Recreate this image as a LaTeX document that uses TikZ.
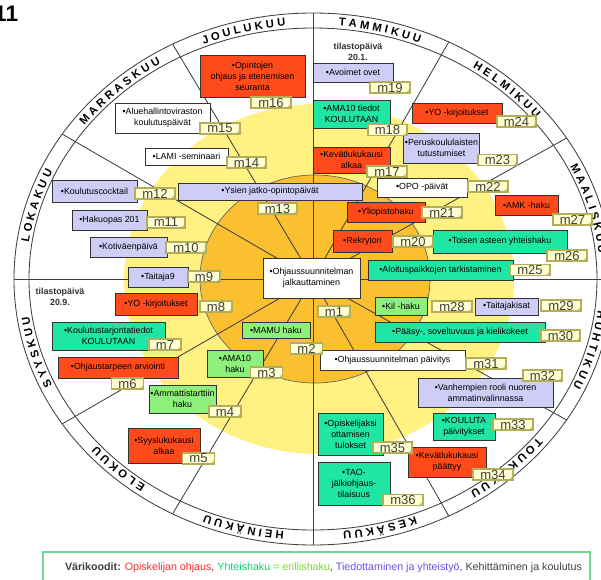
\documentclass[tikz,border=0pt]{standalone}
\usepackage{fontspec}
\setmainfont{Liberation Sans}
\usetikzlibrary{decorations.text}
\definecolor{ohjausred}{HTML}{FF4A1C}
\definecolor{yhteisgreen}{HTML}{20E6A5}
\definecolor{erillisgreen}{HTML}{8CF07A}
\definecolor{tiedlav}{HTML}{CDCDF5}
\definecolor{paleyellow}{HTML}{FFF282}
\definecolor{sunorange}{HTML}{FAC030}
\definecolor{tagfill}{HTML}{FFFFD2}
\definecolor{tagedge}{HTML}{B4AE5A}
\definecolor{legendframe}{HTML}{70D890}
\definecolor{legendred}{HTML}{FF2A2A}
\definecolor{legendgreen}{HTML}{10D070}
\definecolor{legendlime}{HTML}{70E020}
\definecolor{legendpurple}{HTML}{6A50F0}
\newcommand\kkfont{\fontsize{8}{8}\selectfont\bfseries}
\tikzset{
  sz/.style 2 args={minimum width=#1*0.25mm,minimum height=#2*0.25mm},
  % laatikot
  box/.style={draw=black!80,line width=0.5pt,inner sep=1pt,align=center,
              font=\fontsize{6.3}{7.8}\selectfont},
  rbox/.style={box,fill=ohjausred},
  ybox/.style={box,fill=yhteisgreen},
  ebox/.style={box,fill=erillisgreen},
  tbox/.style={box,fill=tiedlav},
  kbox/.style={box,fill=white},
  tilasto/.style={align=center,inner sep=0pt,text=black!80,
                  font=\fontsize{6.3}{7.8}\selectfont\bfseries},
  mtag/.style={draw=tagedge,line width=1.1pt,fill=tagfill,text=black!75,
               inner xsep=5pt,inner ysep=0.6pt,font=\fontsize{9.3}{10}\selectfont,
               path picture={\fill[tagedge!70] (path picture bounding box.south east)
                 -- ++(-3pt,0) -- ++(3pt,3pt) -- cycle;}},
  % kehä
  ring/.style={draw=black!75,line width=0.6pt},
  raja/.style={draw=black!75,line width=0.6pt},
  kk/.style={decorate,decoration={text along path,text align=center,
             text={|\kkfont|#1}}},
}

\begin{document}
\begin{tikzpicture}[x=0.25mm,y=0.25mm]
  \path[use as bounding box] (-313,-300) rectangle (288,279);
  \clip (-313,-300) rectangle (288,279);
  \fill[white] (-313,-300) rectangle (288,279);
  \coordinate (keski) at (0,0);
  % kehä ja ympyrät
  \draw[ring,fill=white] (keski) ellipse [x radius=299,y radius=266];
  \draw[ring] (keski) ellipse [x radius=284,y radius=251];
  \fill[paleyellow] (6,0) ellipse [x radius=195,y radius=175];
  \draw[draw=black!60,line width=0.5pt,fill=sunorange] (2,0) ellipse [x radius=115,y radius=104];
  \foreach \a in {90,63,32,0,-32,-63,-90,-118,-147,180,147,118}
    \draw[raja] (keski) -- (\a:299 and 266);
  % kuukaudet
  \path[kk={T A M M I K U U}] (90:287 and 254) arc[start angle=90,end angle=63,x radius=287,y radius=254];
  \path[kk={H E L M I K U U}] (63:287 and 254) arc[start angle=63,end angle=32,x radius=287,y radius=254];
  \path[kk={M A A L I S K U U}] (32:287 and 254) arc[start angle=32,end angle=0,x radius=287,y radius=254];
  \path[kk={H U H T I K U U}] (0:287 and 254) arc[start angle=0,end angle=-32,x radius=287,y radius=254];
  \path[kk={T O U K O K U U}] (-32:287 and 254) arc[start angle=-32,end angle=-63,x radius=287,y radius=254];
  \path[kk={K E S Ä K U U}] (-63:287 and 254) arc[start angle=-63,end angle=-90,x radius=287,y radius=254];
  \path[kk={H E I N Ä K U U}] (-90:287 and 254) arc[start angle=-90,end angle=-118,x radius=287,y radius=254];
  \path[kk={E L O K U U}] (-118:287 and 254) arc[start angle=-118,end angle=-147,x radius=287,y radius=254];
  \path[kk={S Y Y S K U U}] (-147:287 and 254) arc[start angle=-147,end angle=-180,x radius=287,y radius=254];
  \path[kk={L O K A K U U}] (180:287 and 254) arc[start angle=180,end angle=147,x radius=287,y radius=254];
  \path[kk={M A R R A S K U U}] (147:287 and 254) arc[start angle=147,end angle=118,x radius=287,y radius=254];
  \path[kk={J O U L U K U U}] (118:287 and 254) arc[start angle=118,end angle=90,x radius=287,y radius=254];
  % laatikot
  \node[rbox,sz={105}{42}] (opinnot) at (-60.5,203) {•Opintojen\\ohjaus ja etenemisen\\seuranta};
  \node[tbox,sz={80}{19}] (avoimet) at (40,206.5) {•Avoimet ovet};
  \node[tilasto] (tilasto1) at (45,227) {tilastopäivä\\20.1.};
  \node[ybox,sz={77}{28}] (ama10tiedot) at (38.5,165) {•AMA10 tiedot\\KOULUTAAN};
  \node[rbox,sz={77}{26}] (kevatalku) at (38.5,119) {•Kevätlukukausi\\alkaa};
  \node[rbox,sz={90}{20}] (yo1) at (144,166) {•YO -kirjoitukset};
  \node[tbox,sz={73}{30}] (tutustumiset) at (128.5,131) {•Peruskoululaisten\\tutustumiset};
  \node[kbox,sz={90}{19}] (opo) at (109,91.5) {•OPO -päivät};
  \node[rbox,sz={63}{20}] (amk) at (213.5,74) {•AMK -haku};
  \node[rbox,sz={78}{20}] (yliopisto) at (73,67) {•Yliopistohaku};
  \node[rbox,sz={59}{22}] (rekrytori) at (49.5,38) {•Rekrytori};
  \node[ybox,sz={134}{23}] (toinenaste) at (187,37.5) {•Toisen asteen yhteishaku};
  \node[ybox,sz={145}{20}] (aloitus) at (127.5,9) {•Aloituspaikkojen tarkistaminen};
  \node[kbox,sz={97}{40}] (jalkautus) at (-1.5,1) {•Ohjaussuunnitelman\\jalkauttaminen};
  \node[ebox,sz={52}{18}] (kil) at (88,-27) {•Kil -haku};
  \node[tbox,sz={63}{17}] (taitajakisat) at (193.5,-27.5) {•Taitajakisat};
  \node[ybox,sz={170}{20}] (paasykokeet) at (147,-53) {•Pääsy-, soveltuvuus ja kielikokeet};
  \node[kbox,sz={145}{20}] (paivitys) at (79.5,-81) {•Ohjaussuunnitelman päivitys};
  \node[tbox,sz={135}{29}] (vanhemmat) at (172.5,-113.5) {•Vanhempien rooli nuoren\\ammatinvalinnassa};
  \node[ybox,sz={62}{27}] (kouluta) at (151,-147.5) {•KOULUTA\\päivitykset};
  \node[rbox,sz={78}{30}] (kevatloppu) at (134,-183) {•Kevätlukukausi\\päättyy};
  \node[ybox,sz={65}{42}] (tulokset) at (37.5,-155) {•Opiskelijaksi\\ottamisen\\tulokset};
  \node[ybox,sz={72}{43}] (tao) at (41,-204.5) {•TAO-\\jälkiohjaus-\\tilaisuus};
  \node[rbox,sz={72}{35}] (syysalku) at (-149,-166.5) {•Syyslukukausi\\alkaa};
  \node[ebox,sz={65}{28}] (starttihaku) at (-130.5,-120) {•Ammattistarttiin\\haku};
  \node[ebox,sz={56}{27}] (ama10haku) at (-78,-84.5) {•AMA10\\haku};
  \node[ebox,sz={68}{16}] (mamu) at (-37,-51) {•MAMU haku};
  \node[rbox,sz={120}{21}] (ohjaustarve) at (-195,-88.5) {•Ohjaustarpeen arviointi};
  \node[ybox,sz={113}{28}] (tarjonta) at (-204.5,-57) {•Koulutustarjontatiedot\\KOULUTAAN};
  \node[rbox,sz={82}{22}] (yo2) at (-157,-25) {•YO -kirjoitukset};
  \node[tilasto] (tilasto2) at (-253,-18) {tilastopäivä\\20.9.};
  \node[tbox,sz={60}{20}] (taitaja) at (-155,2) {•Taitaja9};
  \node[tbox,sz={77}{20}] (kotivaki) at (-184.5,32) {•Kotiväenpäivä};
  \node[tbox,sz={75}{20}] (hakuopas) at (-203.5,59) {•Hakuopas 201};
  \node[tbox,sz={85}{22}] (cocktail) at (-218.5,88) {•Koulutuscocktail};
  \node[tbox,sz={184}{17}] (ysit) at (-43,87.5) {•Ysien jatko-opintopäivät};
  \node[kbox,sz={83}{17}] (lami) at (-126.5,122.5) {•LAMI -seminaari};
  \node[kbox,sz={95}{30}] (avi) at (-150.5,161) {•Aluehallintoviraston\\koulutuspäivät};
  % m-tunnukset
  \node[mtag] (m1) at (21,-32.5) {m1};
  \node[mtag] (m2) at (-6.5,-69.5) {m2};
  \node[mtag] (m3) at (-46.5,-93.5) {m3};
  \node[mtag] (m4) at (-88,-132.5) {m4};
  \node[mtag] (m5) at (-114.5,-179.5) {m5};
  \node[mtag] (m6) at (-185.5,-104.5) {m6};
  \node[mtag] (m7) at (-148,-65.5) {m7};
  \node[mtag] (m8) at (-97,-27.5) {m8};
  \node[mtag] (m9) at (-109,2.5) {m9};
  \node[mtag] (m10) at (-127,31.5) {m10};
  \node[mtag] (m11) at (-147,56.5) {m11};
  \node[mtag] (m12) at (-158,85.5) {m12};
  \node[mtag] (m13) at (-35.5,70.5) {m13};
  \node[mtag] (m14) at (-66.5,116.5) {m14};
  \node[mtag] (m15) at (-93,150.5) {m15};
  \node[mtag] (m16) at (-42,176.5) {m16};
  \node[mtag] (m17) at (74,107.5) {m17};
  \node[mtag] (m18) at (74.5,149) {m18};
  \node[mtag] (m19) at (77,191.5) {m19};
  \node[mtag] (m20) at (100,37.5) {m20};
  \node[mtag] (m21) at (129,66.5) {m21};
  \node[mtag] (m22) at (175,92.5) {m22};
  \node[mtag] (m23) at (184.5,119) {m23};
  \node[mtag] (m24) at (203.5,157.5) {m24};
  \node[mtag] (m25) at (217,9) {m25};
  \node[mtag] (m26) at (254,23.5) {m26};
  \node[mtag] (m27) at (259.5,59.5) {m27};
  \node[mtag] (m28) at (139,-27.5) {m28};
  \node[mtag] (m29) at (248,-26.5) {m29};
  \node[mtag] (m30) at (247.5,-56.5) {m30};
  \node[mtag] (m31) at (173,-84.5) {m31};
  \node[mtag] (m32) at (229.5,-96.5) {m32};
  \node[mtag] (m33) at (200,-145.5) {m33};
  \node[mtag] (m34) at (180,-195.5) {m34};
  \node[mtag] (m35) at (79.5,-168.5) {m35};
  \node[mtag] (m36) at (90,-221) {m36};
  % selite
  \node[draw=legendframe,line width=1.6pt,fill=white,sz={547}{40}] (selite) at (3.5,-293) {};
  \node[font=\fontsize{7.6}{9}\selectfont,text=black!75] (selitys) at (10.5,-289)
    {{\bfseries Värikoodit:} \textcolor{legendred}{Opiskelijan ohjaus}, \textcolor{legendgreen}{Yhteishaku} \textcolor{legendlime}{= erillishaku}, \textcolor{legendpurple}{Tiedottaminen ja yhteistyö}, Kehittäminen ja koulutus};
  \node[font=\fontsize{16}{16}\selectfont\bfseries,anchor=east] (sivu) at (-290,265) {11};
\end{tikzpicture}
\end{document}
